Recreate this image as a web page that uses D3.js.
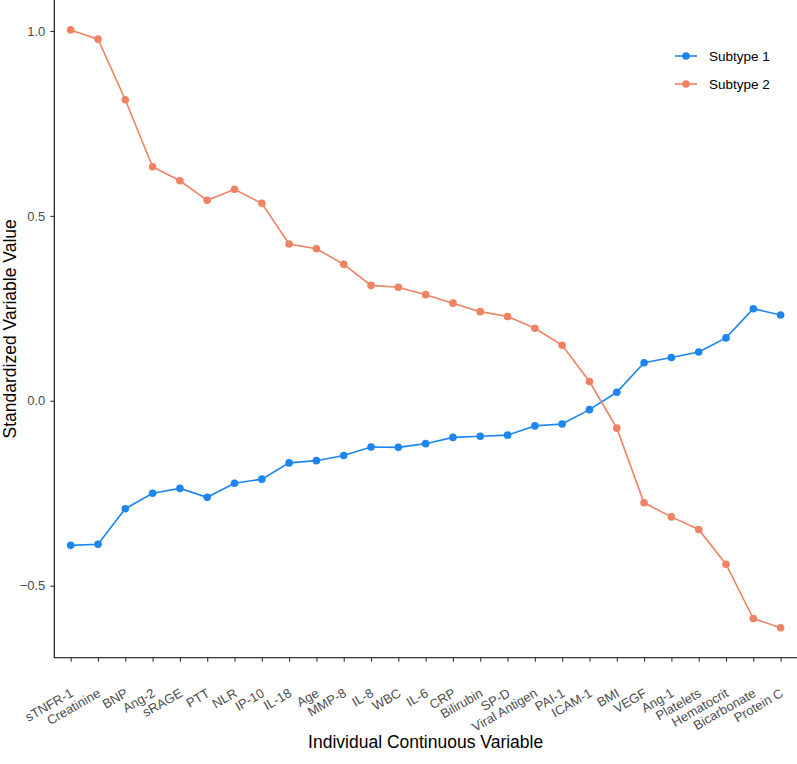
<!DOCTYPE html>
<html>
<head>
<meta charset="utf-8">
<script src="https://cdn.jsdelivr.net/npm/d3@7"></script>
<style>
  html, body { margin: 0; padding: 0; background: #fff; }
  svg { display: block; font-family: "Liberation Sans", Arial, Helvetica, sans-serif; }
</style>
</head>
<body>
<svg id="chart" width="797" height="764"></svg>
<script>
const categories = ["sTNFR-1","Creatinine","BNP","Ang-2","sRAGE","PTT","NLR","IP-10","IL-18","Age","MMP-8","IL-8","WBC","IL-6","CRP","Bilirubin","SP-D","Viral Antigen","PAI-1","ICAM-1","BMI","VEGF","Ang-1","Platelets","Hematocrit","Bicarbonate","Protein C"];
const subtype1 = [-0.391,-0.388,-0.292,-0.250,-0.237,-0.261,-0.223,-0.212,-0.168,-0.162,-0.148,-0.125,-0.126,-0.116,-0.099,-0.096,-0.093,-0.068,-0.063,-0.024,0.023,0.103,0.117,0.132,0.170,0.249,0.232];
const subtype2 = [1.003,0.978,0.814,0.633,0.595,0.542,0.572,0.534,0.424,0.411,0.369,0.312,0.307,0.287,0.264,0.241,0.228,0.196,0.150,0.052,-0.074,-0.276,-0.314,-0.348,-0.442,-0.589,-0.614];
const yTicks = [-0.5, 0.0, 0.5, 1.0];
const seriesNames = ["Subtype 1", "Subtype 2"];
const colors = ["#1C86EE", "#EE8262"];

const svg = d3.select("#chart");
const panel = {left: 54.3, right: 797, top: 0, bottom: 657.7};

const x = d3.scalePoint().domain(categories)
  .range([panel.left, panel.right]).padding(0.6);
const yMin = Math.min(d3.min(subtype1), d3.min(subtype2));
const yMax = Math.max(d3.max(subtype1), d3.max(subtype2));
const pad = (yMax - yMin) * 0.05;
const y = d3.scaleLinear().domain([yMin - pad, yMax + pad]).range([panel.bottom, panel.top]);

// Axes
const xAxis = svg.append("g").attr("transform", `translate(0,${panel.bottom})`)
  .call(d3.axisBottom(x).tickSize(4).tickPadding(6).tickSizeOuter(0));
xAxis.select(".domain").attr("stroke", "#000").attr("stroke-width", 1.1)
  .attr("d", `M${panel.left},0H${panel.right}`);
xAxis.selectAll(".tick line").attr("stroke", "#333").attr("stroke-width", 1.1);
xAxis.selectAll(".tick text")
  .attr("fill", "#4d4d4d").attr("font-size", 13)
  .attr("text-anchor", "end")
  .attr("dy", null).attr("y", null)
  .attr("transform", "translate(3,38) rotate(-30)");

const yAxis = svg.append("g").attr("transform", `translate(${panel.left},0)`)
  .call(d3.axisLeft(y).tickValues(yTicks).tickFormat(d3.format(".1f")).tickSize(4).tickPadding(5).tickSizeOuter(0));
yAxis.select(".domain").attr("stroke", "#000").attr("stroke-width", 1.1)
  .attr("d", `M0,${panel.top}V${panel.bottom}`);
yAxis.selectAll(".tick line").attr("stroke", "#333").attr("stroke-width", 1.1);
yAxis.selectAll(".tick text").attr("fill", "#4d4d4d").attr("font-size", 13);

// Lines and points
const series = [subtype1, subtype2];
const line = d3.line().x((d, i) => x(categories[i])).y(d => y(d));
series.forEach((vals, si) => {
  svg.append("path").datum(vals)
    .attr("d", line).attr("fill", "none")
    .attr("stroke", colors[si]).attr("stroke-width", 1.6);
  svg.append("g").selectAll("circle").data(vals).join("circle")
    .attr("cx", (d, i) => x(categories[i])).attr("cy", d => y(d))
    .attr("r", 3.8).attr("fill", colors[si]);
});

// Axis titles
svg.append("text").attr("x", (panel.left + panel.right) / 2).attr("y", 748)
  .attr("text-anchor", "middle").attr("font-size", 17.5).attr("fill", "#000")
  .text("Individual Continuous Variable");
svg.append("text").attr("transform", `translate(16,${(panel.top + panel.bottom) / 2}) rotate(-90)`)
  .attr("text-anchor", "middle").attr("font-size", 17.5).attr("fill", "#000")
  .text("Standardized Variable Value");

// Legend
const legend = svg.append("g").attr("transform", "translate(675,56)");
seriesNames.forEach((name, i) => {
  const g = legend.append("g").attr("transform", `translate(0,${i * 28})`);
  g.append("line").attr("x1", 0).attr("x2", 22).attr("y1", 0).attr("y2", 0)
    .attr("stroke", colors[i]).attr("stroke-width", 1.6);
  g.append("circle").attr("cx", 11).attr("cy", 0).attr("r", 3.8).attr("fill", colors[i]);
  g.append("text").attr("x", 34).attr("y", 0).attr("dy", "0.35em")
    .attr("font-size", 13.5).attr("fill", "#000").text(name);
});
</script>
</body>
</html>
